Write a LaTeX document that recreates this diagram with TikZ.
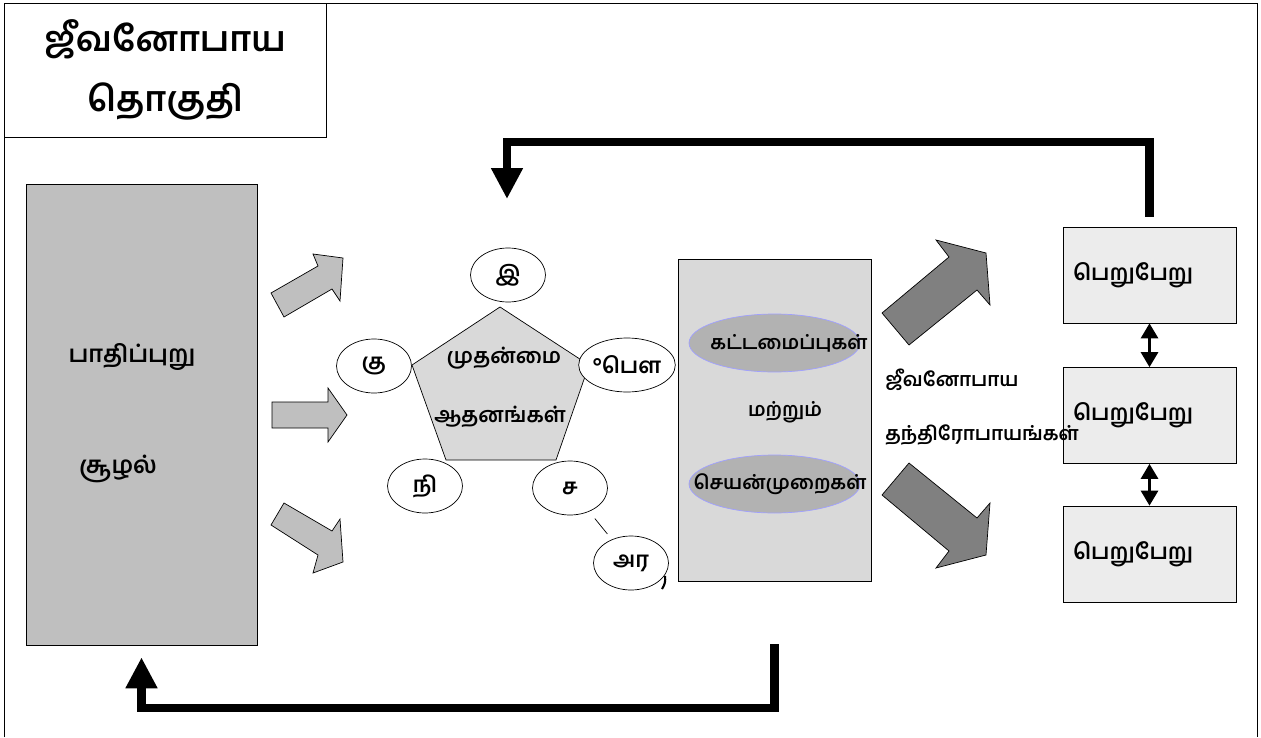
\documentclass[tikz,border=0pt]{standalone}
\usepackage{fontspec}
\setmainfont{Hind Madurai}[Script=Tamil,UprightFont=* SemiBold]
\usetikzlibrary{shapes.geometric,arrows.meta}
\definecolor{rim}{RGB}{160,160,255}
\begin{document}
\begin{tikzpicture}[x=0.02cm,y=-0.02cm,
	txt/.style={font=\fontsize{12}{14}\selectfont,inner sep=0pt},
	bub/.style={draw,fill=white,ellipse,minimum width=1.5cm,minimum height=1.08cm,inner sep=0pt,font=\fontsize{12.5}{14}\selectfont},
	inner/.style={draw=rim,fill=gray!60,ellipse,minimum width=3.42cm,minimum height=1.16cm},
	res/.style={draw,fill=gray!15,minimum width=3.46cm,minimum height=1.92cm,text width=3.06cm,inner xsep=0.2cm,align=left,font=\fontsize{12.5}{14}\selectfont},
	blk/.style={draw,line join=miter},
	fb/.style={line width=5pt,-{Triangle[length=0.62cm,width=0.6cm]}},
	dbl/.style={line width=1.6pt,{Triangle[length=0.3cm,width=0.34cm]}-{Triangle[length=0.3cm,width=0.34cm]}}]
\useasboundingbox (0,0) rectangle (1261,737);
\draw (4,737) -- (4,3) -- (1257,3) -- (1257,737);
\node[draw,minimum width=6.44cm,minimum height=2.68cm,align=center,font=\fontsize{20}{34.6}\selectfont] (title) at (165,70) {ஜீவனோபாய\\தொகுதி};
\node[draw,fill=gray!50,minimum width=4.62cm,minimum height=9.22cm] (env) at (141.5,414.5) {};
\node[txt,font=\fontsize{13.5}{15}\selectfont] (env1) at (132,357) {பாதிப்புறு};
\node[txt,font=\fontsize{13.5}{15}\selectfont] (env2) at (118,469) {சூழல்};
\draw[blk,fill=gray!50] (271,293) -- (318,266) -- (313,254) -- (343,258) -- (340,301) -- (332,289) -- (284,317) -- cycle;
\draw[blk,fill=gray!50] (272,402) -- (328,402) -- (328,388) -- (347,415) -- (328,442) -- (328,428) -- (272,428) -- cycle;
\draw[blk,fill=gray!50] (271,525) -- (284,503) -- (332,531) -- (340,519) -- (343,562) -- (313,573) -- (318,555) -- cycle;
\draw[fill=gray!30] (500,307) -- (589,365) -- (556,460) -- (446,460) -- (412,365) -- cycle;
\node[txt] (core1) at (504,358) {முதன்மை};
\node[txt] (core2) at (500,417) {ஆதனங்கள்};
\foreach \n/\x/\y/\t in {ik/508/275/இ,ku/374/366/கு,pau/627/365/°பௌ,ni/425/486/நி,sa/570/488/ச,ara/631/563/அர}
	\node[bub] (\n) at (\x,\y) {\t};
\draw[shorten <=0.18cm,shorten >=0.14cm] (sa) -- (ara);
\draw[line width=1.2pt] (665,576) to[bend left=20] (662,589);
\node[draw,fill=gray!30,minimum width=3.86cm,minimum height=6.44cm] (mid) at (774.5,420) {};
\node[inner] (form) at (774.5,343) {};
\node[inner] (proc) at (774.5,484) {};
\node[txt,font=\fontsize{11}{14}\selectfont] (form1) at (789,343) {கட்டமைப்புகள்};
\node[txt,font=\fontsize{11}{14}\selectfont] (and) at (785,412) {மற்றும்};
\node[txt,font=\fontsize{11}{14}\selectfont] (proc1) at (780,484) {செயன்முறைகள்};
\draw[blk,fill=gray] (882,313) -- (949,257) -- (936,240) -- (986,253) -- (990,305) -- (977,290) -- (909,345) -- cycle;
\draw[blk,fill=gray] (882,495) -- (949,551) -- (936,568) -- (986,555) -- (990,503) -- (977,518) -- (909,463) -- cycle;
\foreach \k/\y in {1/275,2/415.5,3/554}
	\node[res] (r\k) at (1149.5,\y) {பெறுபேறு};
\node[txt,anchor=west,font=\fontsize{11}{14}\selectfont] (strat1) at (885,380) {ஜீவனோபாய};
\node[txt,anchor=west,font=\fontsize{11}{14}\selectfont] (strat2) at (885,435) {தந்திரோபாயங்கள்};
\draw[dbl] (r1.south) -- (r2.north);
\draw[dbl] (r2.south) -- (r3.north);
\coordinate (top) at (507,142);
\coordinate (cin) at (507,199);
\draw[fb] ([yshift=0.2cm]r1.north) -- (r1.north |- top) -| (cin);
\coordinate (bot) at (774,708);
\draw[fb] ([yshift=-1.26cm]mid.south) -- (mid.south |- bot) -| ([yshift=-0.24cm]env.south);
\end{tikzpicture}
\end{document}
